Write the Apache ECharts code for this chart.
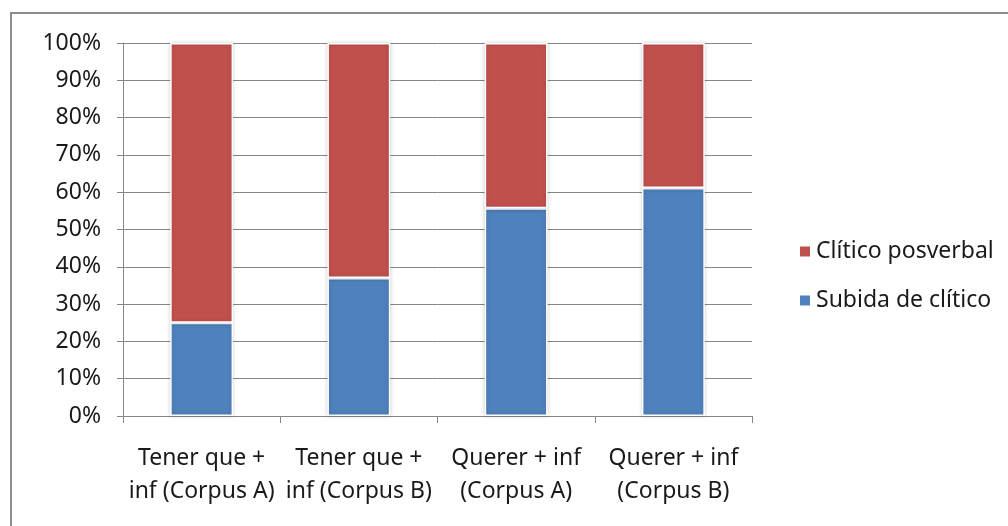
<!DOCTYPE html>
<html>
<head>
<meta charset="utf-8">
<script src="https://cdn.jsdelivr.net/npm/echarts@6/dist/echarts.min.js"></script>
<style>
  html, body { margin: 0; padding: 0; background: #ffffff; }
  #chart { width: 1008px; height: 526px; }
</style>
</head>
<body>
<div id="chart"></div>
<script>
// Categories along the x axis
const categories = [
  'Tener que +\ninf (Corpus A)',
  'Tener que +\ninf (Corpus B)',
  'Querer + inf\n(Corpus A)',
  'Querer + inf\n(Corpus B)'
];
// Share (%) of each clitic position per construction
const subidaDeClitico = [25, 37, 55.7, 61.1];
const cliticoPosverbal = [75, 63, 44.3, 38.9];
// Y-axis tick values (%)
const yTicks = [0, 10, 20, 30, 40, 50, 60, 70, 80, 90, 100];

const FONT = '"Noto Sans", "Open Sans", sans-serif';
const TEXT = '#1a1a1a';
const chart = echarts.init(document.getElementById('chart'));

chart.setOption({
  animation: false,
  backgroundColor: '#ffffff',
  graphic: [{
    type: 'rect',
    shape: { x: 11, y: 13, width: 1000, height: 520 },
    style: { fill: 'none', stroke: '#8c8c8c', lineWidth: 2 },
    silent: true
  }],
  grid: { left: 123, right: 256, top: 43, bottom: 110 },
  legend: {
    orient: 'vertical',
    left: 793,
    top: 235,
    itemWidth: 12,
    itemHeight: 12,
    itemGap: 26,
    icon: 'rect',
    data: ['Clítico posverbal', 'Subida de clítico'],
    textStyle: { fontFamily: FONT, fontSize: 23, color: TEXT }
  },
  xAxis: {
    type: 'category',
    data: categories,
    boundaryGap: true,
    axisLine: { lineStyle: { color: '#868686', width: 1 } },
    axisTick: { show: true, length: 7, interval: 0, lineStyle: { color: '#868686' } },
    axisLabel: {
      interval: 0,
      margin: 26,
      fontFamily: FONT,
      fontSize: 23,
      lineHeight: 33,
      color: TEXT
    }
  },
  yAxis: {
    type: 'value',
    min: yTicks[0],
    max: yTicks[yTicks.length - 1],
    interval: 10,
    axisLine: { show: true, lineStyle: { color: '#868686', width: 1 } },
    axisTick: { show: true, length: 6, lineStyle: { color: '#868686' } },
    axisLabel: {
      margin: 22,
      fontFamily: FONT,
      fontSize: 23,
      color: TEXT,
      formatter: v => v + '%'
    },
    splitLine: { show: true, lineStyle: { color: '#868686', width: 1 } }
  },
  series: [
    {
      name: 'Subida de clítico',
      type: 'bar',
      stack: 'total',
      data: subidaDeClitico,
      barWidth: '40%',
      itemStyle: {
        color: '#4f81bd',
        borderColor: '#ffffff',
        borderWidth: 1.5,
        shadowColor: 'rgba(0,0,0,0.18)',
        shadowBlur: 4
      }
    },
    {
      name: 'Clítico posverbal',
      type: 'bar',
      stack: 'total',
      data: cliticoPosverbal,
      barWidth: '40%',
      itemStyle: {
        color: '#c0504d',
        borderColor: '#ffffff',
        borderWidth: 1.5,
        shadowColor: 'rgba(0,0,0,0.18)',
        shadowBlur: 4
      }
    }
  ]
});
</script>
</body>
</html>
